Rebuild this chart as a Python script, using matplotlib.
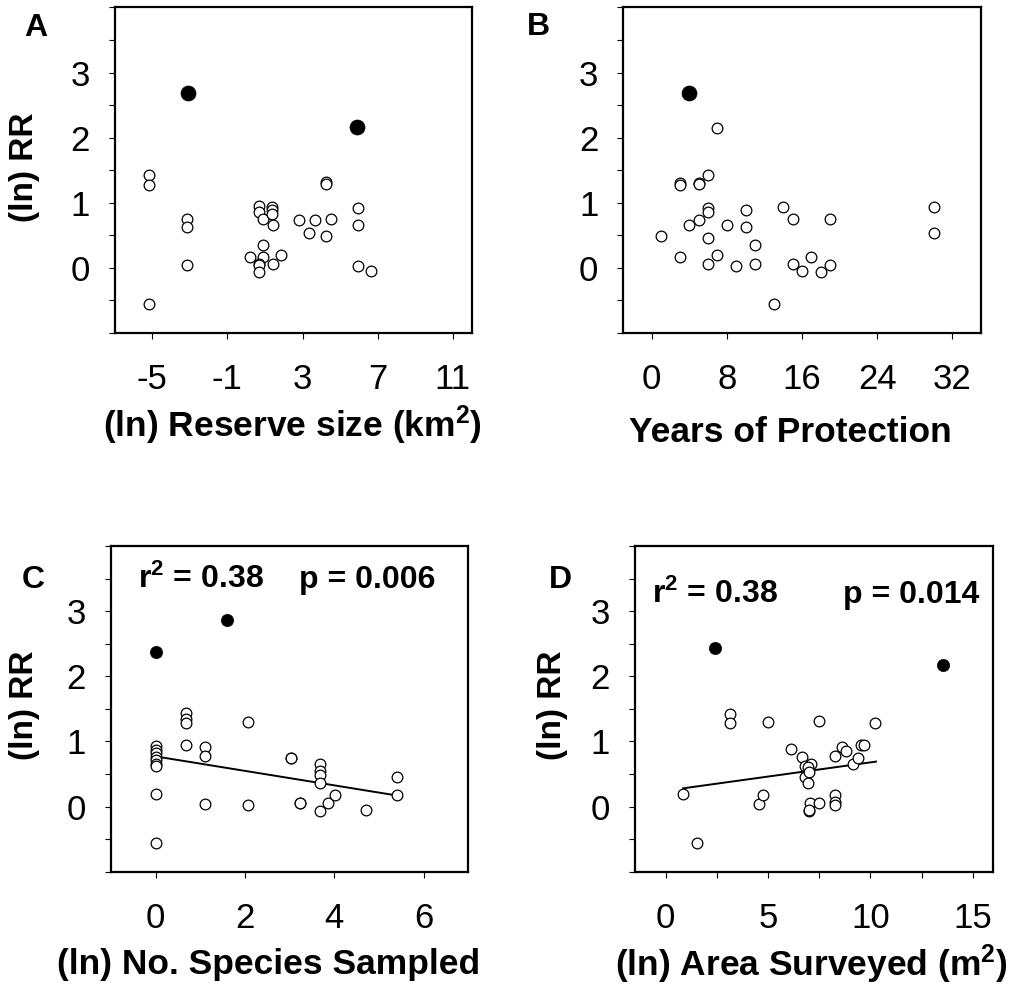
import matplotlib
matplotlib.use('Agg')
import matplotlib.pyplot as plt
from matplotlib.ticker import MultipleLocator

plt.rcParams['font.family'] = ['Liberation Sans', 'DejaVu Sans']
plt.rcParams['mathtext.fontset'] = 'custom'
plt.rcParams['mathtext.rm'] = 'Liberation Sans'
plt.rcParams['mathtext.bf'] = 'Liberation Sans:bold'
plt.rcParams['mathtext.it'] = 'Liberation Sans:italic'
plt.rcParams['axes.unicode_minus'] = False

# ---------------- data ----------------
# Panel A: (ln) reserve size vs (ln) RR
a_open_x = [-5.2, -5.2, -5.2, -3.15, -3.15, -3.15, 0.7, 0.7, 0.9, 1.35, 1.35, 1.35, 1.4, 0.9, 0.2, 0.9,
            1.85, 0.7, 0.7, 0.7, 1.4, 2.8, 3.65, 4.5, 3.35, 4.25, 4.25, 4.25, 5.95, 5.95, 5.95, 6.65]
a_open_y = [1.42, 1.27, -0.56, 0.75, 0.62, 0.04, 0.95, 0.86, 0.75, 0.94, 0.88, 0.82, 0.66, 0.35, 0.17, 0.17,
            0.19, 0.06, 0.04, -0.07, 0.06, 0.73, 0.74, 0.75, 0.53, 0.49, 1.32, 1.28, 0.91, 0.66, 0.02, -0.05]
a_fill_x = [-3.1, 5.9]
a_fill_y = [2.69, 2.16]

# Panel B: years of protection vs (ln) RR
b_open_x = [1, 3, 3, 3, 4, 5, 5, 5, 6, 6, 6, 6, 6, 7, 7, 8, 9, 10, 10, 11, 11, 13, 14, 15, 15, 16,
            17, 18, 19, 19, 30, 30]
b_open_y = [0.49, 1.30, 1.27, 0.17, 0.66, 0.73, 1.30, 1.28, 1.42, 0.91, 0.86, 0.46, 0.06, 2.14, 0.19,
            0.66, 0.02, 0.88, 0.62, 0.35, 0.06, -0.56, 0.94, 0.75, 0.06, -0.05, 0.17, -0.07, 0.75, 0.04,
            0.94, 0.54]
b_fill_x = [4]
b_fill_y = [2.68]

# Panel C: (ln) no. species sampled vs (ln) RR
c_open_x = [0, 0, 0, 0, 0, 0, 0, 0, 0, 0.69, 0.69, 0.69, 0.69, 1.1, 1.1, 1.1, 2.07, 2.07, 3.03, 3.03,
            3.24, 3.24, 3.68, 3.68, 3.68, 3.68, 3.68, 3.86, 4.01, 4.71, 5.4, 5.4]
c_open_y = [0.93, 0.87, 0.82, 0.76, 0.71, 0.66, 0.62, 0.20, -0.56, 1.43, 1.34, 1.29, 0.95, 0.91, 0.78,
            0.04, 1.30, 0.02, 0.75, 0.75, 0.06, 0.06, 0.66, 0.54, 0.49, 0.36, -0.07, 0.05, 0.18, -0.05,
            0.46, 0.17]
c_fill_x = [0, 1.6]
c_fill_y = [2.37, 2.87]
c_fit_x = [0, 5.4]
c_fit_y = [0.77, 0.17]
c_stats = ["r$^{\\mathbf{2}}$ = 0.38", "p = 0.006"]

# Panel D: (ln) area surveyed vs (ln) RR
d_open_x = [0.85, 1.55, 3.12, 3.12, 5.0, 4.54, 4.75, 6.14, 6.67, 6.80, 7.12, 6.94, 6.80, 7.0, 6.97,
            7.03, 7.0, 7.0, 7.51, 7.51, 8.25, 8.25, 8.25, 8.25, 8.63, 8.82, 9.15, 9.41, 9.52, 9.7, 10.21]
d_open_y = [0.20, -0.56, 1.42, 1.28, 1.30, 0.04, 0.17, 0.89, 0.76, 0.63, 0.66, 0.61, 0.46, 0.53, 0.36,
            0.06, -0.07, -0.05, 0.05, 1.31, 0.78, 0.18, 0.07, 0.02, 0.92, 0.86, 0.66, 0.74, 0.94, 0.94,
            1.28]
d_fill_x = [2.4, 13.56]
d_fill_y = [2.44, 2.17]
d_fit_x = [0.85, 10.27]
d_fit_y = [0.28, 0.69]
d_stats = ["r$^{\\mathbf{2}}$ = 0.38", "p = 0.014"]

y_label = "(ln) RR"
x_labels = ["(ln) Reserve size (km$^{\\mathbf{2}}$)", "Years of Protection",
            "(ln) No. Species Sampled", "(ln) Area Surveyed (m$^{\\mathbf{2}}$)"]
panel_letters = ["A", "B", "C", "D"]
y_ticks = [0, 1, 2, 3]

# ---------------- layout ----------------
W, H = 1017, 988
fig = plt.figure(figsize=(W / 100, H / 100), dpi=100)


def add_ax(l, t, r, b):
    return fig.add_axes([l / W, 1 - b / H, (r - l) / W, (b - t) / H])


def ftext(x, y, s, **kw):
    return fig.text(x / W, 1 - y / H, s, **kw)


boxes = [(114.7, 7.5, 471.7, 332.7), (623.3, 7.5, 980.7, 332.7),
         (111, 546, 468.3, 871.7), (635, 546, 993.3, 871.7)]
xlims = [(-7, 12), (-3, 35), (-1, 7), (-1.5, 16)]
xticks_list = [[-5, -1, 3, 7, 11], [0, 8, 16, 24, 32], [0, 2, 4, 6], [0, 5, 10, 15]]

open_sets = [(a_open_x, a_open_y), (b_open_x, b_open_y), (c_open_x, c_open_y), (d_open_x, d_open_y)]
fill_sets = [(a_fill_x, a_fill_y), (b_fill_x, b_fill_y), (c_fill_x, c_fill_y), (d_fill_x, d_fill_y)]
fill_sizes = [10.8, 10.8, 8.8, 8.8]

axes = []
for i, box in enumerate(boxes):
    ax = add_ax(*box)
    axes.append(ax)
    ax.set_xlim(*xlims[i])
    ax.set_ylim(-1, 4)
    ax.set_yticks(y_ticks)
    ax.set_yticklabels([str(t) for t in y_ticks])
    ax.yaxis.set_minor_locator(MultipleLocator(0.5))
    ax.set_xticks(xticks_list[i])
    ax.set_xticklabels([str(t) for t in xticks_list[i]])
    if i == 3:
        ax.xaxis.set_minor_locator(MultipleLocator(2.5))
    for sp in ax.spines.values():
        sp.set_linewidth(1.6)
    ax.tick_params(axis='both', which='both', direction='out', length=4, width=0.8,
                   labelsize=25, top=False, right=False)
    ax.tick_params(axis='y', which='major', pad=14)
    ax.tick_params(axis='x', which='major', pad=18)
    ox, oy = open_sets[i]
    ax.plot(ox, oy, 'o', ms=7.7, mfc='white', mec='black', mew=0.9, zorder=3)
    fx, fy = fill_sets[i]
    ax.plot(fx, fy, 'o', ms=fill_sizes[i], mfc='black', mec='black', mew=0.5, zorder=4)

# regression lines
axes[2].plot(c_fit_x, c_fit_y, '-', color='black', lw=1.4, zorder=2)
axes[3].plot(d_fit_x, d_fit_y, '-', color='black', lw=1.4, zorder=2)

# stats text
st = dict(fontsize=23, fontweight='bold', va='baseline')
ftext(138, 588, c_stats[0], ha='left', **st)
ftext(299, 588, c_stats[1], ha='left', **st)
ftext(652, 603, d_stats[0], ha='left', **st)
ftext(979, 603, d_stats[1], ha='right', **st)

# panel letters
letter_pos = [(36, 28), (538, 27), (33, 580), (560, 580)]
for (x, y), s in zip(letter_pos, panel_letters):
    ftext(x, y, s, fontsize=23, fontweight='bold', ha='center', va='center')

# y labels
for (x, y) in [(25, 167), (25, 705), (553, 705)]:
    ftext(x, y, y_label, fontsize=24, fontweight='bold', rotation=90, ha='center', va='center')

# x labels
xlabel_pos = [(292, 425), (790, 432), (269, 964), (811, 964)]
for (x, y), s in zip(xlabel_pos, x_labels):
    ftext(x, y, s, fontsize=25.5, fontweight='bold', ha='center', va='center')

fig.savefig('out.png', dpi=100)
